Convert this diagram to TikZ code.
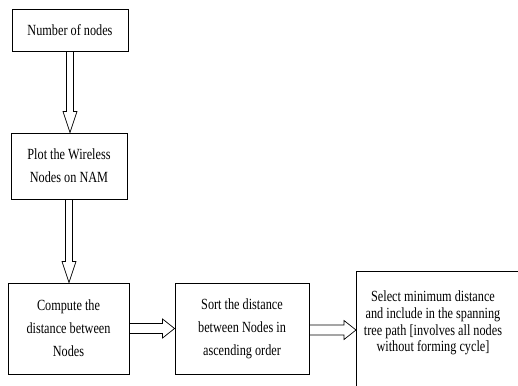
\documentclass[tikz,border=0pt]{standalone}
\usepackage{fontspec}
\setmainfont[FakeStretch=0.79]{Liberation Serif}
\usetikzlibrary{calc}
\tikzset{
  box/.style={draw,line width=0.9pt,align=center,font=\fontsize{15.5}{23}\selectfont},
  flow/.style={draw,line width=0.7pt,line join=miter}
}
\newcommand{\flowdown}[2]{\draw[flow] ($#1+(-3.5,0)$) -- ($#2+(-3.5,-21)$) -- ++(-3.5,0) -- #2 -- ++(7,-21) -- ++(-3.5,0) -- ($#1+(3.5,0)$);}
\newcommand{\flowright}[2]{\draw[flow] ($#1+(0,-5)$) -- ($#2+(-12,-5)$) -- ++(0,-4.5) -- #2 -- ++(-12,9.5) -- ++(0,-4.5) -- ($#1+(0,5)$);}

\begin{document}
\begin{tikzpicture}[x=1pt,y=-1pt]
        \useasboundingbox (0,0) rectangle (518,385);
        \clip (0,0) rectangle (518,385);
        \node[box,minimum width=116,minimum height=42] (num) at (70,30) {Number of nodes};
        \node[box,minimum width=116,minimum height=66] (plot) at (69,166) {Plot the Wireless\\Nodes on NAM};
        \node[box,minimum width=121,minimum height=91] (comp) at (68.5,328.5) {Compute the\\distance between\\Nodes};
        \node[box,minimum width=134,minimum height=91] (sort) at (242,328.5) {Sort the distance\\between Nodes in\\ascending order};
        \node[box,anchor=north west,minimum width=176,minimum height=140] (sel) at (356,271) {};
        \node[align=center,font=\fontsize{15.5}{16.7}\selectfont] (seltext) at (433,323) {Select minimum distance\\and include in the spanning\\tree path [involves all nodes\\without forming cycle]};
        \flowdown{(num.south)}{(num.south |- plot.north)}
        \flowdown{(plot.south)}{(plot.south |- comp.north)}
        \flowright{(comp.east)}{(sort.west)}
        \coordinate (s) at ($(sort.east)+(0,1.5)$);
        \flowright{(s)}{(s -| sel.west)}
    \end{tikzpicture}
\end{document}
